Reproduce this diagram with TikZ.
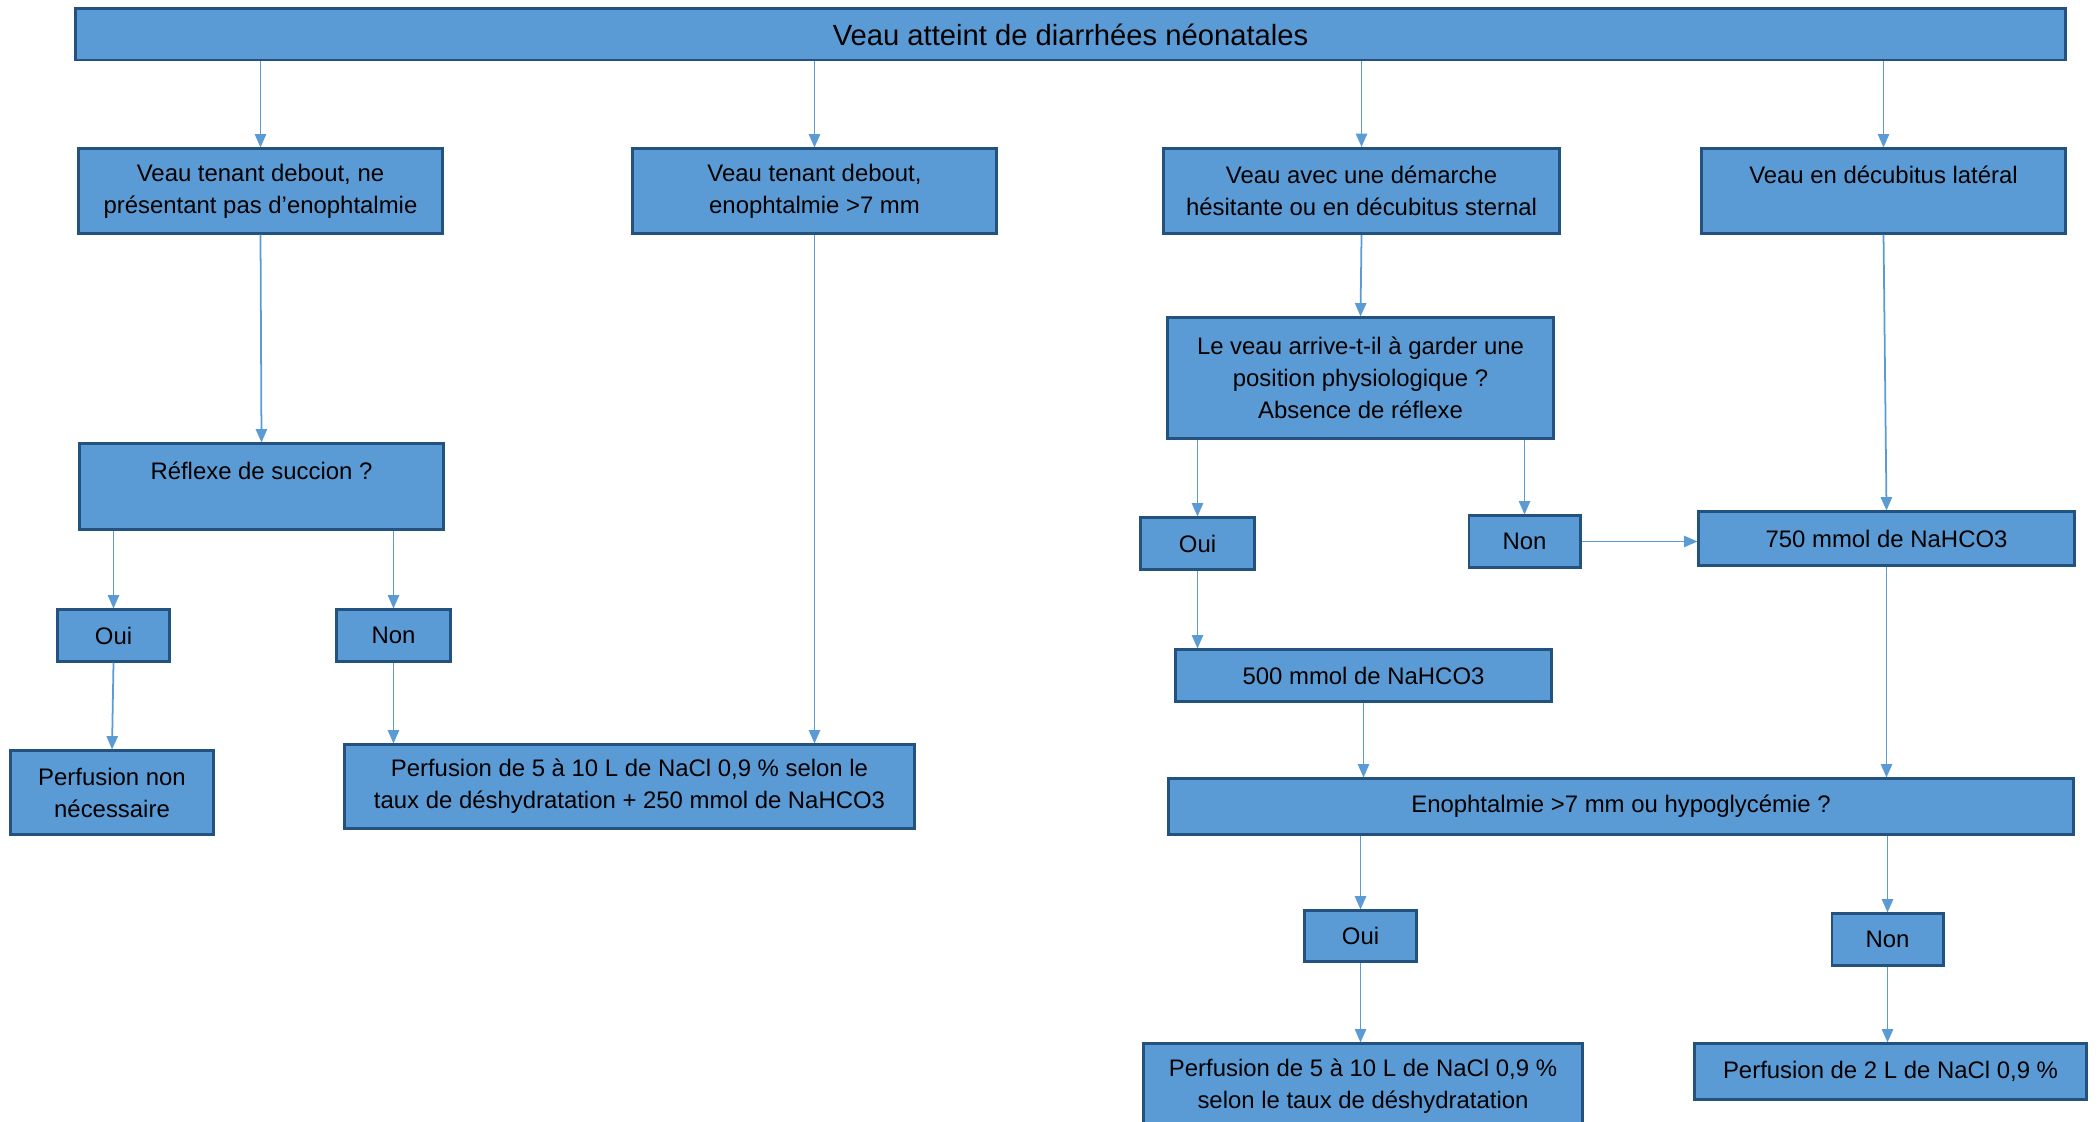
\documentclass[tikz,border=0pt]{standalone}
\usepackage{fontspec}
\setmainfont{Liberation Sans}
\usetikzlibrary{arrows.meta}
\definecolor{boxfill}{HTML}{5B9BD5}
\definecolor{boxline}{HTML}{24527F}
\begin{document}
\begin{tikzpicture}[x=0.01cm,y=-0.01cm,
  etape/.style={draw=boxline, line width=0.85pt, fill=boxfill, inner sep=0pt,
    align=center, font=\fontsize{6.8}{9.1}\selectfont},
  fleche/.style={draw=boxfill, line width=0.5pt, -{Triangle[length=3.8pt,width=3.2pt]}}]
\useasboundingbox (0,0) rectangle (2098,1122);
%%% top box
\node[etape, minimum width=19.89cm, minimum height=0.51cm, font=\fontsize{8.3}{10}\selectfont] (veau) at (1070.5,34.5) {Veau atteint de diarrhées néonatales};
%%% the four cases
\node[etape, minimum width=3.63cm, minimum height=0.84cm] (debout) at (260.5,191)
{Veau tenant debout, ne\\présentant pas d’enophtalmie};
\node[etape, minimum width=3.63cm, minimum height=0.84cm] (enoph) at (814.5,191)
{Veau tenant debout,\\enophtalmie >7 mm};
\node[etape, minimum width=3.95cm, minimum height=0.85cm] (hesite) at (1361.5,191)
{Veau avec une démarche\\hésitante ou en décubitus sternal};
\node[etape, minimum width=3.63cm, minimum height=0.84cm] (lateral) at (1883.5,191)
{Veau en décubitus latéral\\\mbox{}};
%%% left branch
\node[etape, minimum width=3.63cm, minimum height=0.85cm] (succion) at (261.5,486.5)
{Réflexe de succion ?\\\mbox{}};
\node[etape, minimum width=1.11cm, minimum height=0.51cm] (oui1) at (113.5,635.5) {Oui};
\node[etape, minimum width=1.13cm, minimum height=0.51cm] (non1) at (393.5,635.5) {Non};
\node[etape, minimum width=2.02cm, minimum height=0.83cm] (perfnon) at (112,792.5)
{Perfusion non\\nécessaire};
\node[etape, minimum width=5.69cm, minimum height=0.83cm] (perf1) at (629.5,786.5)
{Perfusion de 5 à 10 L de NaCl 0,9 \% selon le\\taux de déshydratation + 250 mmol de NaHCO3};
%%% right branch
\node[etape, minimum width=3.85cm, minimum height=1.2cm] (position) at (1360.5,378)
{Le veau arrive-t-il à garder une\\position physiologique ?\\Absence de réflexe};
\node[etape, minimum width=1.13cm, minimum height=0.51cm] (oui2) at (1197.5,543.5) {Oui};
\node[etape, minimum width=1.11cm, minimum height=0.51cm] (non2) at (1524.5,541.5) {Non};
\node[etape, minimum width=3.75cm, minimum height=0.53cm] (bic750) at (1886.5,538.5) {750 mmol de NaHCO3};
\node[etape, minimum width=3.75cm, minimum height=0.51cm] (bic500) at (1363.5,675.5) {500 mmol de NaHCO3};
\node[etape, minimum width=9.04cm, minimum height=0.55cm] (hypo) at (1621,806.5)
{Enophtalmie >7 mm ou hypoglycémie ?};
\node[etape, minimum width=1.11cm, minimum height=0.5cm] (oui3) at (1360.5,936) {Oui};
\node[etape, minimum width=1.11cm, minimum height=0.51cm] (non3) at (1887.5,939.5) {Non};
\node[etape, minimum width=4.38cm, minimum height=0.84cm] (perf2) at (1363,1086)
{Perfusion de 5 à 10 L de NaCl 0,9 \%\\selon le taux de déshydratation};
\node[etape, minimum width=3.91cm, minimum height=0.55cm] (perf3) at (1890.5,1071.5)
{Perfusion de 2 L de NaCl 0,9 \%};
%%% arrows from the top
\draw[fleche] (veau.south -| debout.north) -- (debout.north);
\draw[fleche] (veau.south -| enoph.north) -- (enoph.north);
\draw[fleche] (veau.south -| hesite.north) -- (hesite.north);
\draw[fleche] (veau.south -| lateral.north) -- (lateral.north);
%%% left
\draw[fleche] (debout.south) -- (succion.north);
\draw[fleche] (succion.south -| oui1.north) -- (oui1.north);
\draw[fleche] (succion.south -| non1.north) -- (non1.north);
\draw[fleche] (oui1.south) -- (perfnon.north);
\draw[fleche] (non1.south) -- (non1.south |- perf1.north);
\draw[fleche] (enoph.south) -- (enoph.south |- perf1.north);
%%% right
\draw[fleche] (hesite.south) -- (position.north);
\draw[fleche] (position.south -| oui2.north) -- (oui2.north);
\draw[fleche] (position.south -| non2.north) -- (non2.north);
\draw[fleche] (non2.east) -- (non2.east -| bic750.west);
\draw[fleche] (lateral.south) -- (bic750.north);
\draw[fleche] (oui2.south) -- (oui2.south |- bic500.north);
\draw[fleche] (bic500.south) -- (bic500.south |- hypo.north);
\draw[fleche] (bic750.south) -- (bic750.south |- hypo.north);
\draw[fleche] (hypo.south -| oui3.north) -- (oui3.north);
\draw[fleche] (hypo.south -| non3.north) -- (non3.north);
\draw[fleche] (oui3.south) -- (oui3.south |- perf2.north);
\draw[fleche] (non3.south) -- (non3.south |- perf3.north);
\end{tikzpicture}
\end{document}
